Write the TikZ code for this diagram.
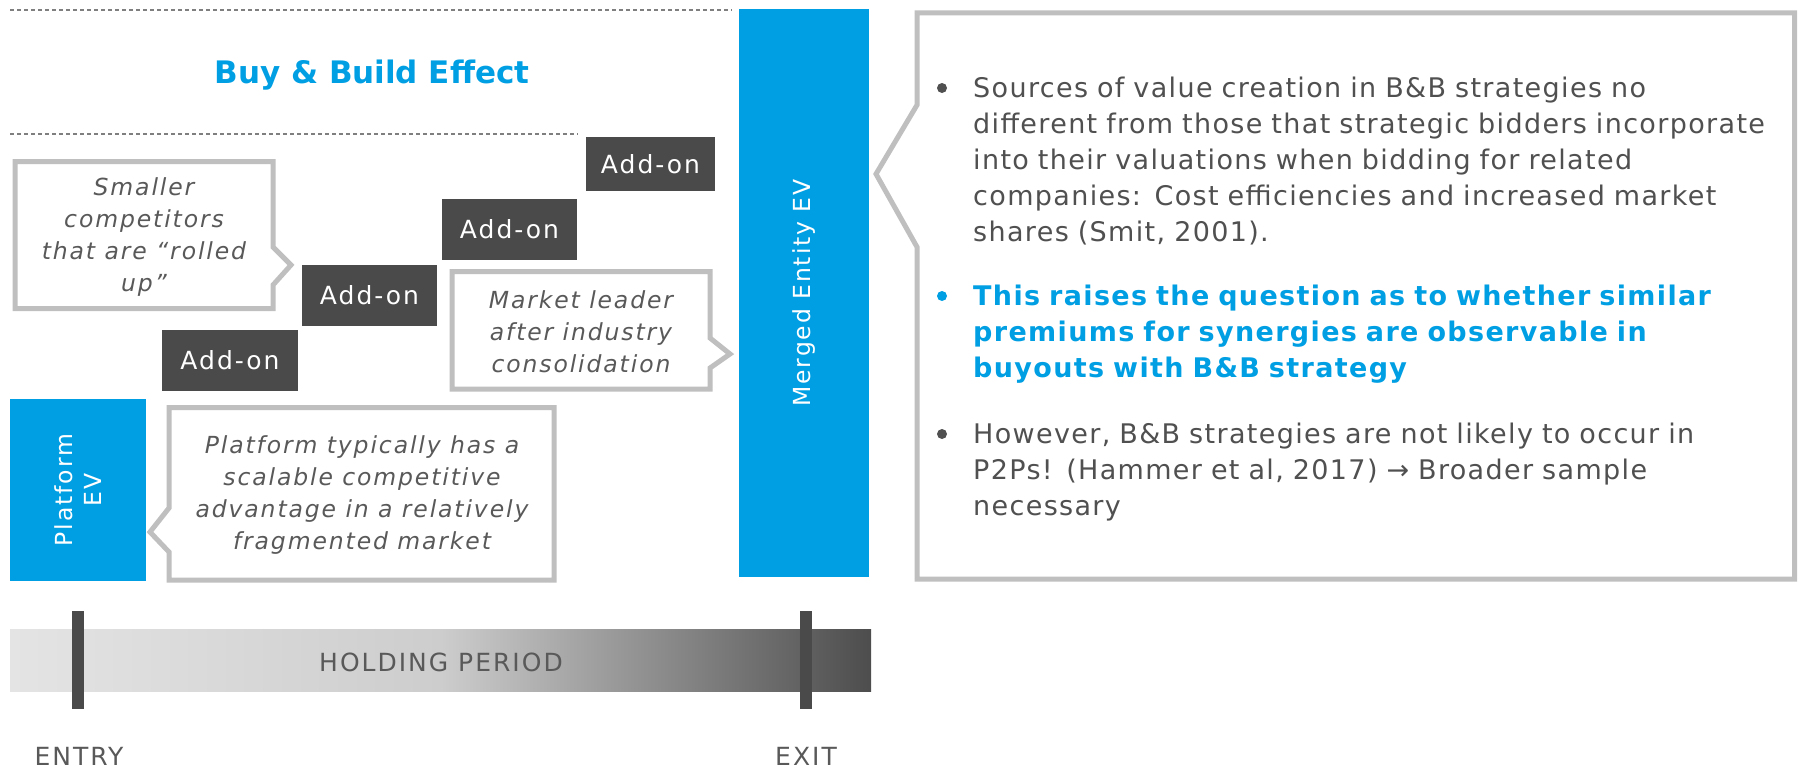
\documentclass[tikz,border=0pt]{standalone}
\usepackage{fontspec}
\setmainfont{DejaVu Sans}
\newfontfamily\bodyfont{DejaVu Sans}[LetterSpace=5]
\newfontfamily\notefont{DejaVu Sans}[LetterSpace=8]
\newfontfamily\labelfont{DejaVu Sans}[LetterSpace=8]
\usepackage{tikz}

\definecolor{bbblue}{HTML}{009FE3}
\definecolor{addongrey}{HTML}{4A4A4A}
\definecolor{framegrey}{HTML}{BFBFBF}
\definecolor{notegrey}{HTML}{595959}
\definecolor{textgrey}{HTML}{505050}
\definecolor{dashgrey}{HTML}{7F7F7F}
\definecolor{barlight}{HTML}{E4E4E4}
\definecolor{barmid}{HTML}{CDCDCD}
\definecolor{bardark}{HTML}{4D4D4D}

\begin{document}
\begin{tikzpicture}[x=1pt, y=-1pt,
  addon/.style={fill=addongrey, text=white, inner sep=0pt, font={\labelfont\fontsize{25}{29}\selectfont}},
  evbox/.style={fill=bbblue, text=white, rotate=90, align=center, inner sep=0pt, font={\labelfont\fontsize{23.5}{29}\selectfont}},
  callout/.style={draw=framegrey, line width=5pt, fill=white},
  note/.style={text=notegrey, align=center, font={\notefont\itshape\fontsize{23.5}{32}\selectfont}},
  guide/.style={draw=dashgrey, line width=1.5pt, dash pattern=on 4pt off 3pt},
  tick/.style={fill=addongrey, minimum width=12, minimum height=98, inner sep=0pt},
  barlabel/.style={text=notegrey, inner sep=0pt, font={\labelfont\fontsize{25}{29}\selectfont}},
  body/.style={text=textgrey, text width=830, align=left, inner sep=0pt, anchor=base west, font={\bodyfont\fontsize{27}{36}\selectfont}},
  dot/.style={circle, fill=textgrey, minimum size=10, inner sep=0pt}]
\useasboundingbox (0,0) rectangle (1799,768);
% Title band
\draw[guide] (10,10) -- (732,10);
\node[text=bbblue, anchor=base, inner sep=0pt, font={\fontsize{31}{36}\selectfont\bfseries}] (title) at (372,83) {Buy \& Build Effect};
\draw[guide] (10,134) -- (578,134);
% Add-ons
\foreach \n/\x/\y/\w/\h in {1/230/360.5/136/61, 2/369.5/295.5/135/61, 3/509.5/229.5/135/61, 4/650.5/164/129/54}
  { \node[addon, minimum width=\w, minimum height=\h] (addon\n) at (\x,\y) {Add-on}; }
% Enterprise values
\node[evbox, minimum width=182, minimum height=136] (platform) at (78,490) {Platform\\EV};
\node[evbox, minimum width=568, minimum height=130] (merged) at (804,293) {Merged Entity EV};
% Callouts
\draw[callout] (15,161.5) -- (273,161.5) -- (273,247) -- (291,265) -- (273,285) -- (273,308.5) -- (15,308.5) -- cycle;
\node[note] (rollup) at (144,237) {Smaller\\competitors\\that are “rolled\\up”};
\draw[callout] (452,271.5) -- (710,271.5) -- (710,338) -- (730,354) -- (710,368) -- (710,389) -- (452,389) -- cycle;
\node[note] (leader) at (581,332) {Market leader\\after industry\\consolidation};
\draw[callout] (169,407.5) -- (554,407.5) -- (554,580) -- (169,580) -- (169,552) -- (150,532) -- (169,508) -- cycle;
\node[note] (advantage) at (362,495) {Platform typically has a\\scalable competitive\\advantage in a relatively\\fragmented market};
% Holding period
\shade[left color=barlight, right color=bardark, middle color=barmid] (10,629) rectangle (871,691);
\node[barlabel, anchor=base] (holding) at (441,671) {HOLDING PERIOD};
\node[tick] (entrytick) at (78.3,660) {};
\node[tick] (exittick) at (806,660) {};
\node[barlabel, anchor=base] (entry) at (79,765) {ENTRY};
\node[barlabel, anchor=base] (exit) at (806,765) {EXIT};
% Text box
\draw[callout] (917,13) -- (1794.5,13) -- (1794.5,579) -- (917,579) -- (917,247) -- (876,174) -- (917,105) -- cycle;
\node[dot] (dot1) at (942,88) {};
\node[body] (sources) at (973,97) {Sources of value creation in B\&B strategies no\\different from those that strategic bidders incorporate\\into their valuations when bidding for related\\companies: Cost efficiencies and increased market\\shares (Smit, 2001).};
\node[dot, fill=bbblue] (dot2) at (942,296) {};
\node[body, text=bbblue, font={\bodyfont\bfseries\fontsize{27}{36}\selectfont}] (question) at (973,305) {This raises the question as to whether similar\\premiums for synergies are observable in\\buyouts with B\&B strategy};
\node[dot] (dot3) at (942,434) {};
\node[body] (however) at (973,443) {However, B\&B strategies are not likely to occur in\\P2Ps! (Hammer et al, 2017) → Broader sample\\necessary};
\end{tikzpicture}
\end{document}
